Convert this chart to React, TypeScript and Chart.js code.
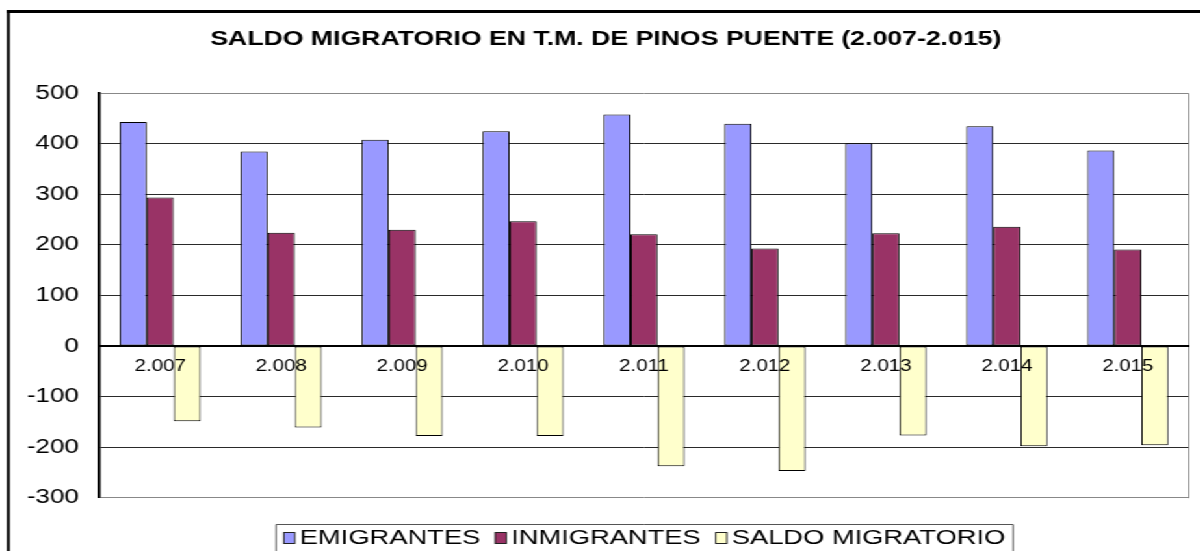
import React, { useEffect, useRef } from 'react';
import { Chart, registerables } from 'chart.js';

Chart.register(...registerables);

const FONT = "'Liberation Sans', Arial, Helvetica, sans-serif";
// the reference image is horizontally stretched; we draw in a narrower canvas and stretch it
const STRETCH = 1.3;
const W = 923;
const H = 551;

const TITLE = 'SALDO MIGRATORIO EN T.M. DE PINOS PUENTE (2.007-2.015)';
const YEARS = ['2.007', '2.008', '2.009', '2.010', '2.011', '2.012', '2.013', '2.014', '2.015'];
const EMIGRANTES = [443, 385, 408, 425, 458, 440, 401, 435, 387];
const INMIGRANTES = [294, 224, 230, 247, 221, 193, 223, 236, 191];
const SALDO = [-149, -161, -178, -178, -238, -247, -177, -198, -196];
const SERIES_LABELS = ['EMIGRANTES', 'INMIGRANTES', 'SALDO MIGRATORIO'];
const SERIES_COLORS = ['#9999FF', '#993366', '#FFFFCC'];
const Y_MIN = -300;
const Y_MAX = 500;
const Y_STEP = 100;

const framePlugin = {
  id: 'frameAndLegend',
  beforeDatasetsDraw(chart: any) {
    const { ctx, chartArea } = chart;
    ctx.save();
    ctx.strokeStyle = '#888888';
    ctx.lineWidth = 1;
    ctx.beginPath();
    const x = Math.round(chartArea.right) + 0.5;
    ctx.moveTo(x, chartArea.top);
    ctx.lineTo(x, chartArea.bottom + 0.5);
    ctx.stroke();
    ctx.restore();
  },
  afterDraw(chart: any) {
    const { ctx } = chart;
    ctx.save();
    // outer chart border (extends past the page)
    ctx.strokeStyle = '#000';
    ctx.lineWidth = 2.3;
    ctx.beginPath();
    ctx.moveTo(6.4, 10);
    ctx.lineTo(6.4, H + 10);
    ctx.stroke();
    ctx.lineWidth = 3;
    ctx.beginPath();
    ctx.moveTo(5.25, 11.5);
    ctx.lineTo(W + 10, 11.5);
    ctx.stroke();

    // legend
    const fontSize = 21;
    ctx.font = `${fontSize}px ${FONT}`;
    const sqW = 8.5;
    const sqH = 11;
    const gapText = 3.8;
    const gapItem = 11.5;
    const boxLeft = 212.3;
    const boxTop = 524.5;
    const pad = 6;
    const cy = 538;
    const items = chart.data.datasets.map((ds: any) => ({
      text: ds.label,
      color: ds.backgroundColor,
      w: ctx.measureText(ds.label).width,
    }));
    let x = boxLeft + pad;
    ctx.textBaseline = 'middle';
    ctx.textAlign = 'left';
    items.forEach((it: any, i: number) => {
      ctx.fillStyle = it.color;
      ctx.fillRect(x, cy - sqH / 2, sqW, sqH);
      ctx.strokeStyle = '#222';
      ctx.lineWidth = 1;
      ctx.strokeRect(x, cy - sqH / 2, sqW, sqH);
      x += sqW + gapText;
      ctx.fillStyle = '#000';
      ctx.fillText(it.text, x, cy + 0.5);
      x += it.w;
      if (i < items.length - 1) x += gapItem;
    });
    const boxRight = x + pad;
    ctx.strokeStyle = '#555';
    ctx.lineWidth = 1;
    ctx.beginPath();
    ctx.moveTo(boxLeft, H + 5);
    ctx.lineTo(boxLeft, boxTop);
    ctx.lineTo(boxRight, boxTop);
    ctx.lineTo(boxRight, H + 5);
    ctx.stroke();
    ctx.restore();
  },
};

export default function App() {
  const canvasRef = useRef<HTMLCanvasElement | null>(null);

  useEffect(() => {
    const canvas = canvasRef.current;
    if (!canvas) return;
    const seriesData = [EMIGRANTES, INMIGRANTES, SALDO];
    const chart = new Chart(canvas, {
      type: 'bar',
      data: {
        labels: YEARS,
        datasets: seriesData.map((d, i) => ({
          label: SERIES_LABELS[i],
          data: d,
          backgroundColor: SERIES_COLORS[i],
          borderColor: '#000000',
          borderWidth: 1,
          borderSkipped: false,
          categoryPercentage: 0.67,
          barPercentage: 1,
        })),
      },
      options: {
        animation: false,
        responsive: false,
        devicePixelRatio: 1,
        layout: { padding: { left: 17.9, right: 8.9, top: 0, bottom: 53.3 } },
        plugins: {
          legend: { display: false },
          tooltip: { enabled: false },
          title: {
            display: true,
            text: TITLE,
            color: '#000',
            font: { family: FONT, size: 20.5, weight: 'bold', lineHeight: 1 },
            padding: { top: 28.75, bottom: 44.05 },
          },
        },
        scales: {
          x: {
            type: 'category',
            position: { y: 0 },
            offset: true,
            grid: { display: false, drawTicks: false },
            border: { display: true, color: '#000', width: 2, z: 1 },
            ticks: {
              color: '#000',
              font: { family: FONT, size: 15.7 },
              padding: 11.5,
              maxRotation: 0,
              autoSkip: false,
              z: 1,
            },
          },
          y: {
            type: 'linear',
            position: 'left',
            min: Y_MIN,
            max: Y_MAX,
            afterFit: (scale: any) => {
              scale.width = 58.8;
            },
            ticks: {
              stepSize: Y_STEP,
              color: '#000',
              font: { family: FONT, size: 20 },
              padding: 16,
            },
            grid: {
              drawTicks: false,
              lineWidth: 1,
              color: (c: any) =>
                c.tick && (c.tick.value === Y_MAX || c.tick.value === Y_MIN) ? '#888888' : '#2a2a2a',
            },
            border: { display: true, color: '#000', width: 2.4 },
          },
        },
      },
      plugins: [framePlugin],
    } as any);
    return () => chart.destroy();
  }, []);

  return (
    <div
      style={{
        position: 'fixed',
        left: 0,
        top: 0,
        width: W,
        height: H,
        overflow: 'hidden',
        background: '#fff',
        transform: `scaleX(${STRETCH})`,
        transformOrigin: '0 0',
      }}
    >
      <canvas ref={canvasRef} width={W} height={H} style={{ display: 'block' }} />
    </div>
  );
}
